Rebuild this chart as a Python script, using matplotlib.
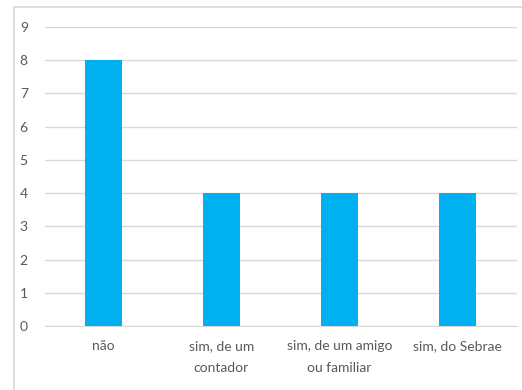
import matplotlib.pyplot as plt
from matplotlib.patches import Rectangle

categories = ['não', 'sim, de um\ncontador', 'sim, de um amigo\nou familiar', 'sim, do Sebrae']
counts = [8, 4, 4, 4]
yticks = list(range(0, 10))

W, H = 522, 390
fig = plt.figure(figsize=(W / 100, H / 100), dpi=100)
plt.rcParams['font.family'] = ['Lato', 'DejaVu Sans']

# chart area border (Excel style)
fig.patches.append(Rectangle((13.5 / W, -0.1), 1.2, 1 - 6.5 / H + 0.1,
                             transform=fig.transFigure, fill=False,
                             edgecolor='#D9D9D9', linewidth=1.2))

ax = fig.add_axes([44.5 / W, 1 - 326 / H, 472 / W, 299 / H])
x = list(range(len(categories)))
ax.bar(x, counts, width=0.31, color='#00B0F0', zorder=3)

ax.set_xlim(-0.5, len(categories) - 0.5)
ax.set_ylim(0, 9)
ax.set_yticks(yticks)
ax.set_xticks(x)
ax.set_xticklabels(categories, linespacing=2.0)
ax.grid(axis='y', color='#D9D9D9', linewidth=1, zorder=0)
for s in ['top', 'right', 'left']:
    ax.spines[s].set_visible(False)
ax.spines['bottom'].set_color('#D9D9D9')
ax.tick_params(axis='both', length=0, colors='#595959', labelsize=10)
ax.tick_params(axis='y', pad=12)
ax.tick_params(axis='x', pad=10)

fig.savefig('out.png', dpi=100)
